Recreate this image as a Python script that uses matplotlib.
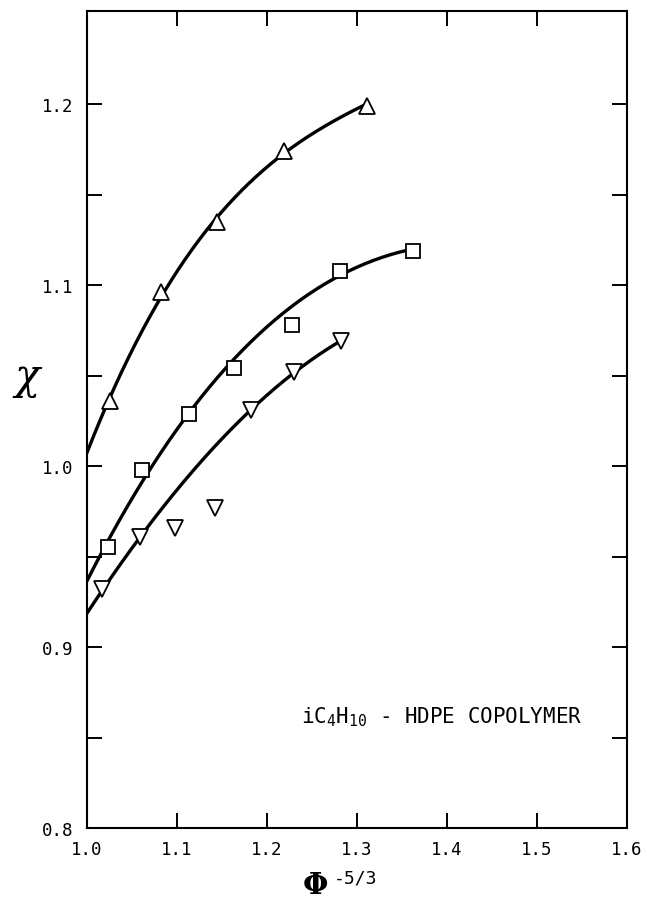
#%% Flory-Huggins chi vs Phi^-5/3 for iC4H10 - HDPE copolymer
import numpy as np
import matplotlib.pyplot as plt

# data
x_up = [1.026, 1.082, 1.145, 1.219, 1.311]
y_up = [1.036, 1.096, 1.135, 1.174, 1.199]

x_sq = [1.023, 1.061, 1.113, 1.163, 1.228, 1.281, 1.362]
y_sq = [0.955, 0.998, 1.029, 1.054, 1.078, 1.108, 1.119]

x_dn = [1.017, 1.059, 1.098, 1.142, 1.182, 1.230, 1.282]
y_dn = [0.932, 0.961, 0.966, 0.977, 1.031, 1.052, 1.069]

# hand-drawn curves (nodes)
cx_up = [1.000, 1.026, 1.082, 1.145, 1.219, 1.311]
cy_up = [1.0085, 1.036, 1.096, 1.1355, 1.1736, 1.200]

cx_sq = [1.000, 1.023, 1.061, 1.113, 1.163, 1.281, 1.362]
cy_sq = [0.9366, 0.955, 0.997, 1.029, 1.0545, 1.108, 1.119]

cx_dn = [1.000, 1.017, 1.059, 1.182, 1.230, 1.282]
cy_dn = [0.9182, 0.932, 0.9606, 1.0306, 1.052, 1.069]

xtick_labels = ['1.0', '1.1', '1.2', '1.3', '1.4', '1.5', '1.6']
ytick_labels = ['0.8', '', '0.9', '', '1.0', '', '1.1', '', '1.2']

#--------------------------------------------------------------------------------------------------#

#%% Plot
plt.rcParams['font.family'] = 'DejaVu Sans Mono'
plt.rcParams['mathtext.fontset'] = 'dejavuserif'

fig = plt.figure(figsize=(6.47, 9.04), dpi=100)
ax = fig.add_axes([87/647, 1 - 829/904, 540/647, 817/904])

def smooth(cx, cy, deg):
    p = np.polyfit(cx, cy, deg)
    xx = np.linspace(cx[0], cx[-1], 200)
    return xx, np.polyval(p, xx)

for cx, cy in [(cx_up, cy_up), (cx_sq, cy_sq), (cx_dn, cy_dn)]:
    xx, yy = smooth(cx, cy, 3)
    ax.plot(xx, yy, color='black', lw=2.4, zorder=2)

ax.plot(x_up, y_up, ls='none', marker='^', ms=12, mfc='white', mec='black', mew=1.3, zorder=3)
ax.plot(x_sq, y_sq, ls='none', marker='s', ms=10.5, mfc='white', mec='black', mew=1.3, zorder=3)
ax.plot(x_dn, y_dn, ls='none', marker='v', ms=12, mfc='white', mec='black', mew=1.3, zorder=3)

ax.set_xlim(1.0, 1.6)
ax.set_ylim(0.8, 1.2514)

ax.set_xticks(np.arange(1.0, 1.61, 0.1))
ax.set_xticklabels(xtick_labels)
ax.set_yticks(np.arange(0.8, 1.21, 0.05))
ax.set_yticklabels(ytick_labels)

ax.tick_params(direction='in', length=11, width=1.4, labelsize=12.5,
               top=True, right=True)
ax.tick_params(axis='x', pad=9)
ax.tick_params(axis='y', pad=10)
for s in ax.spines.values():
    s.set_linewidth(1.5)

ax.text(1.238, 0.858, r'iC$_\mathtt{4}$H$_\mathtt{10}$ - HDPE COPOLYMER', fontsize=15,
        va='baseline')

# axis labels
ax.text(0.422, -0.0700, r'$\mathbf{\Phi}$', fontsize=21, ha='center', va='center',
        transform=ax.transAxes)
ax.text(0.458, -0.0610, '-5/3', fontsize=13, ha='left', va='center',
        transform=ax.transAxes)
ax.set_ylabel(r'$\chi$', fontsize=30, rotation=0)
ax.yaxis.set_label_coords(-0.11, 0.525)

fig.savefig('out.png', dpi=100)
